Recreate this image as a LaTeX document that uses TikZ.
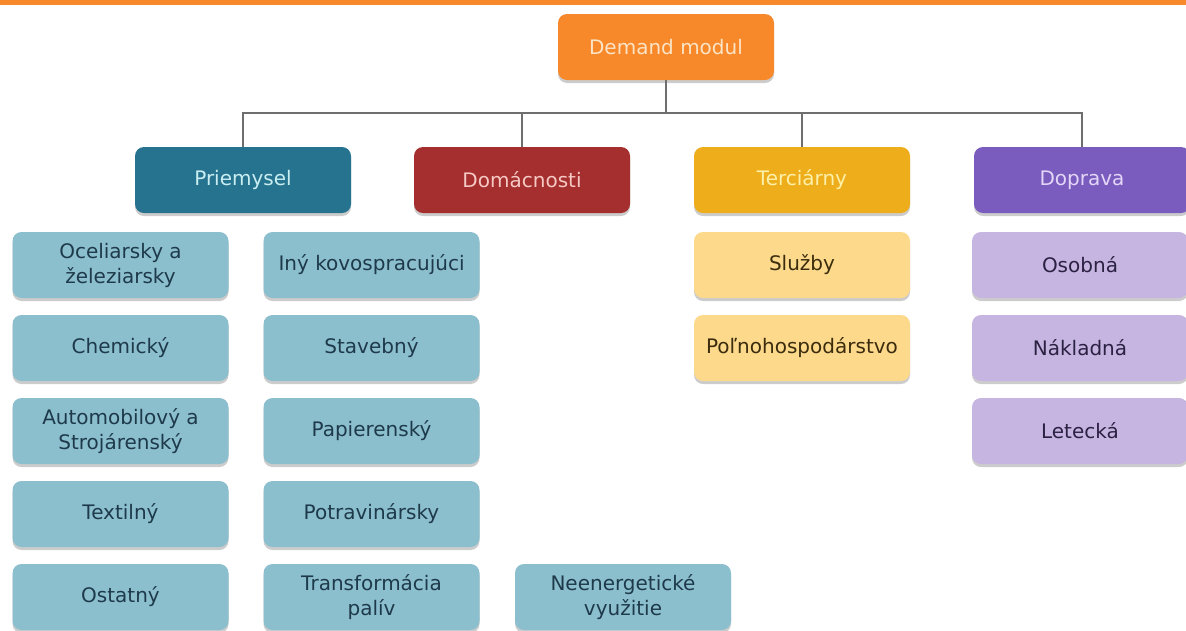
\documentclass[tikz,border=0pt]{standalone}
\usepackage{fontspec}
\setmainfont{DejaVu Sans}
\usepackage{tikz}
\usetikzlibrary{shadows}
\definecolor{Orng}{HTML}{F7892B}
\definecolor{OrngText}{HTML}{FCE3C4}
\definecolor{Petrol}{HTML}{26738F}
\definecolor{PetrolText}{HTML}{C9EEF2}
\definecolor{Wine}{HTML}{A52E2E}
\definecolor{WineText}{HTML}{F5C9C4}
\definecolor{Gold}{HTML}{EEAE1C}
\definecolor{GoldText}{HTML}{FDF0A8}
\definecolor{Violet}{HTML}{7A5BBE}
\definecolor{VioletText}{HTML}{E3D6F7}
\definecolor{SkyLight}{HTML}{8CBFCE}
\definecolor{SkyInk}{HTML}{1E3A4A}
\definecolor{GoldLight}{HTML}{FDD98B}
\definecolor{GoldInk}{HTML}{3B2C0E}
\definecolor{VioletLight}{HTML}{C6B5E1}
\definecolor{VioletInk}{HTML}{2B2143}
\definecolor{Wire}{HTML}{6E6E6E}

\begin{document}
\begin{tikzpicture}[x=1pt,y=-1pt,
  box/.style={rounded corners=9pt,minimum width=216pt,minimum height=66pt,inner sep=0pt,
    align=center,font=\fontsize{20}{25}\selectfont,
    drop shadow={shadow xshift=0pt,shadow yshift=-3pt,opacity=0.4}},
  cat/.style={box,fill=#1},
  sub/.style={box,fill=#1},
  conn/.style={Wire,line width=1.3pt}]
  \useasboundingbox (0,0) rectangle (1186,630);
  \fill[Orng] (0,0) rectangle (1186,5);
  \coordinate (bus) at (0,113);
  \node[cat=Orng,text=OrngText] (root) at (666,47) {Demand modul};
  \node[cat=Petrol,text=PetrolText] (priem) at (243,180) {Priemysel};
  \node[cat=Wine,text=WineText] (domac) at (522,180) {Domácnosti};
  \node[cat=Gold,text=GoldText] (terc) at (802,180) {Terciárny};
  \node[cat=Violet,text=VioletText] (dopr) at (1082,180) {Doprava};
  \draw[conn] (root.south) -- (root.south |- bus);
  \draw[conn] (priem.north) |- (dopr.north |- bus) -- (dopr.north);
  \draw[conn] (domac.north) -- (domac.north |- bus);
  \draw[conn] (terc.north) -- (terc.north |- bus);
  \node[sub=SkyLight,text=SkyInk] (ocel) at (120.5,265) {Oceliarsky a\\železiarsky};
  \node[sub=SkyLight,text=SkyInk] (chem) at (120.5,348) {Chemický};
  \node[sub=SkyLight,text=SkyInk] (auto) at (120.5,431) {Automobilový a\\Strojárenský};
  \node[sub=SkyLight,text=SkyInk] (text) at (120.5,514) {Textilný};
  \node[sub=SkyLight,text=SkyInk] (ost) at (120.5,597) {Ostatný};
  \node[sub=SkyLight,text=SkyInk] (kovo) at (371.5,265) {Iný kovospracujúci};
  \node[sub=SkyLight,text=SkyInk] (stav) at (371.5,348) {Stavebný};
  \node[sub=SkyLight,text=SkyInk] (papi) at (371.5,431) {Papierenský};
  \node[sub=SkyLight,text=SkyInk] (potr) at (371.5,514) {Potravinársky};
  \node[sub=SkyLight,text=SkyInk] (trans) at (371.5,597) {Transformácia\\palív};
  \node[sub=SkyLight,text=SkyInk] (neen) at (623,597) {Neenergetické\\využitie};
  \node[sub=GoldLight,text=GoldInk] (sluz) at (802,265) {Služby};
  \node[sub=GoldLight,text=GoldInk] (poln) at (802,348) {Poľnohospodárstvo};
  \node[sub=VioletLight,text=VioletInk] (osob) at (1080,265) {Osobná};
  \node[sub=VioletLight,text=VioletInk] (nakl) at (1080,348) {Nákladná};
  \node[sub=VioletLight,text=VioletInk] (lete) at (1080,431) {Letecká};
\end{tikzpicture}
\end{document}
